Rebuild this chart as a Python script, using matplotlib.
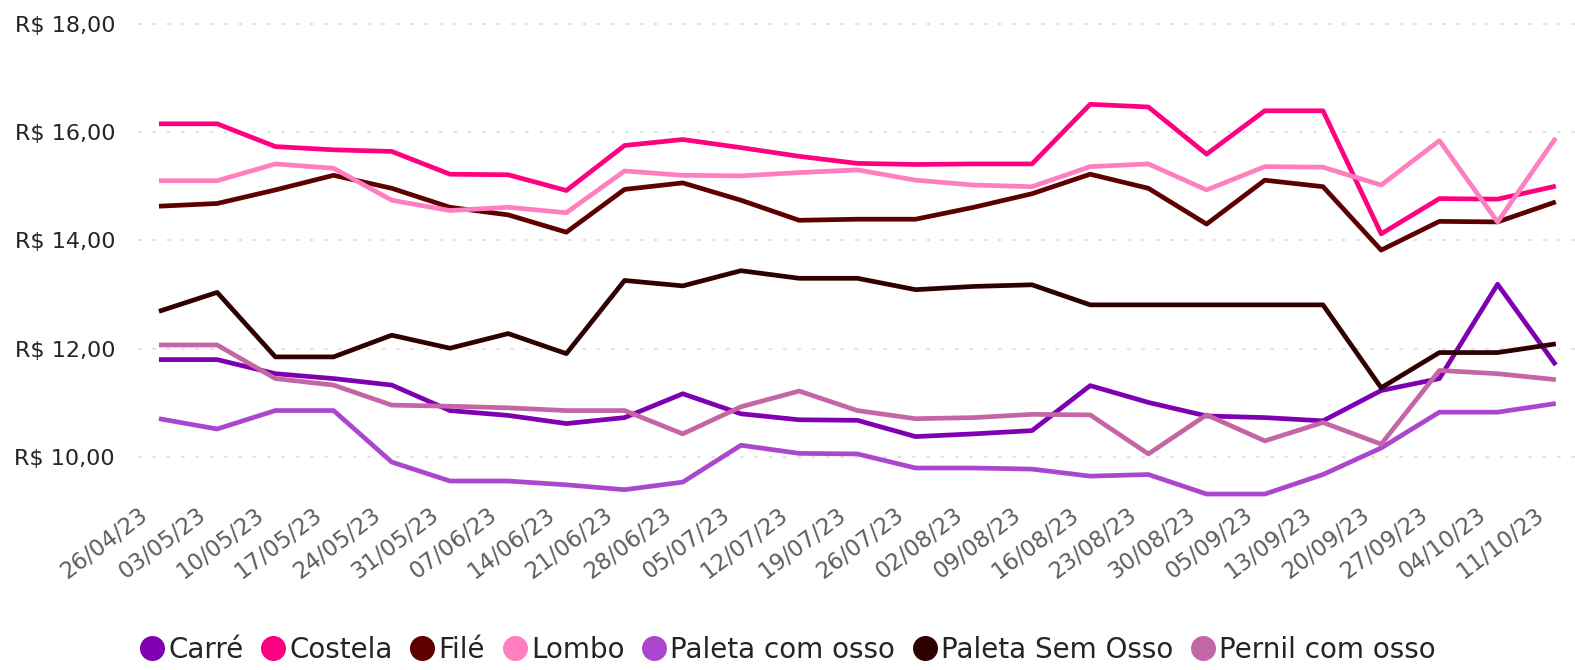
import matplotlib

matplotlib.use("Agg")

import matplotlib.pyplot as plt
from matplotlib.lines import Line2D
from matplotlib.ticker import FuncFormatter
from matplotlib.transforms import ScaledTranslation


DATES = [
    "26/04/23", "03/05/23", "10/05/23", "17/05/23", "24/05/23", "31/05/23", "07/06/23",
    "14/06/23", "21/06/23", "28/06/23", "05/07/23", "12/07/23", "19/07/23", "26/07/23",
    "02/08/23", "09/08/23", "16/08/23", "23/08/23", "30/08/23", "05/09/23", "13/09/23",
    "20/09/23", "27/09/23", "04/10/23", "11/10/23",
]

CARRE = [11.80, 11.80, 11.54, 11.45, 11.33, 10.86, 10.77, 10.62, 10.73, 11.17, 10.80, 10.69, 10.68,
         10.38, 10.43, 10.49, 11.32, 11.01, 10.76, 10.73, 10.67, 11.23, 11.45, 13.19, 11.70]
COSTELA = [16.15, 16.15, 15.73, 15.67, 15.64, 15.22, 15.21, 14.92, 15.75, 15.86, 15.71, 15.55, 15.42,
           15.40, 15.41, 15.41, 16.51, 16.46, 15.59, 16.39, 16.39, 14.12, 14.77, 14.76, 15.00]
FILE = [14.63, 14.68, 14.93, 15.20, 14.96, 14.61, 14.47, 14.15, 14.94, 15.06, 14.74, 14.37, 14.39,
        14.39, 14.61, 14.86, 15.22, 14.96, 14.30, 15.11, 14.99, 13.82, 14.35, 14.34, 14.71]
LOMBO = [15.10, 15.10, 15.41, 15.33, 14.74, 14.55, 14.61, 14.51, 15.28, 15.20, 15.19, 15.25, 15.30,
         15.11, 15.02, 14.99, 15.36, 15.41, 14.93, 15.36, 15.35, 15.02, 15.84, 14.34, 15.89]
PALETA_COM_OSSO = [10.71, 10.52, 10.86, 10.86, 9.91, 9.56, 9.56, 9.49, 9.40, 9.54, 10.22, 10.07, 10.06,
                   9.80, 9.80, 9.78, 9.65, 9.68, 9.32, 9.32, 9.68, 10.17, 10.83, 10.83, 10.99]
PALETA_SEM_OSSO = [12.69, 13.04, 11.85, 11.85, 12.25, 12.01, 12.28, 11.91, 13.26, 13.16, 13.44, 13.30, 13.30,
                   13.09, 13.15, 13.18, 12.81, 12.81, 12.81, 12.81, 12.81, 11.28, 11.93, 11.93, 12.09]
PERNIL_COM_OSSO = [12.07, 12.07, 11.45, 11.33, 10.96, 10.94, 10.91, 10.86, 10.86, 10.43, 10.93, 11.22, 10.86,
                   10.71, 10.73, 10.79, 10.78, 10.06, 10.78, 10.30, 10.64, 10.24, 11.60, 11.54, 11.43]

SERIES = [
    ("Carré", CARRE, "#7F00B2"),
    ("Costela", COSTELA, "#FF0080"),
    ("Filé", FILE, "#5E0000"),
    ("Lombo", LOMBO, "#FF7EC0"),
    ("Paleta com osso", PALETA_COM_OSSO, "#AB47CC"),
    ("Paleta Sem Osso", PALETA_SEM_OSSO, "#2E0000"),
    ("Pernil com osso", PERNIL_COM_OSSO, "#C466A6"),
]

Y_TICKS = [10, 12, 14, 16, 18]


def brl(value, _pos=None) -> str:
    return f"R$ {value:.2f}".replace(".", ",")


def main() -> None:
    plt.rcParams["font.family"] = ["DejaVu Sans"]
    fig = plt.figure(figsize=(15.75, 6.70), dpi=100)
    ax = fig.add_axes([138 / 1575, 1 - 500 / 670, 1 - 138 / 1575, 480 / 670])

    x = list(range(len(DATES)))
    for name, values, color in SERIES:
        ax.plot(x, values, color=color, linewidth=3.4, solid_joinstyle="round",
                solid_capstyle="butt", label=name)

    ax.set_xlim(-0.36, len(DATES) - 1 + 0.33)
    ax.set_ylim(9.21, 18.065)

    ax.set_yticks(Y_TICKS)
    ax.yaxis.set_major_formatter(FuncFormatter(brl))
    ax.yaxis.grid(True, linestyle=(0, (2.2, 6.4)), color="#dddddd", linewidth=1.2)
    ax.set_axisbelow(True)

    ax.set_xticks(x)
    ax.set_xticklabels(DATES, rotation=37, ha="right", va="center", rotation_mode="anchor")
    ax.tick_params(axis="x", length=0, pad=9, labelsize=16.5, labelcolor="#605E5C")
    ax.tick_params(axis="y", length=0, pad=16.5, labelsize=16, labelcolor="#252423")
    shift = ScaledTranslation(-14 / 100, 0, fig.dpi_scale_trans)
    for lbl in ax.get_xticklabels():
        lbl.set_transform(lbl.get_transform() + shift)

    for spine in ax.spines.values():
        spine.set_visible(False)

    handles = [Line2D([], [], marker="o", linestyle="", markersize=18, color=c,
                      markeredgewidth=0) for _, _, c in SERIES]
    fig.legend(handles, [n for n, _, _ in SERIES], loc="center", bbox_to_anchor=(0.5, 0.03),
               ncol=len(SERIES), frameon=False, fontsize=20, handlelength=0.92,
               handletextpad=0.13, columnspacing=0.6, borderpad=0, labelcolor="#252423")

    fig.savefig("out.png", dpi=100)
    plt.close(fig)


if __name__ == "__main__":
    main()
